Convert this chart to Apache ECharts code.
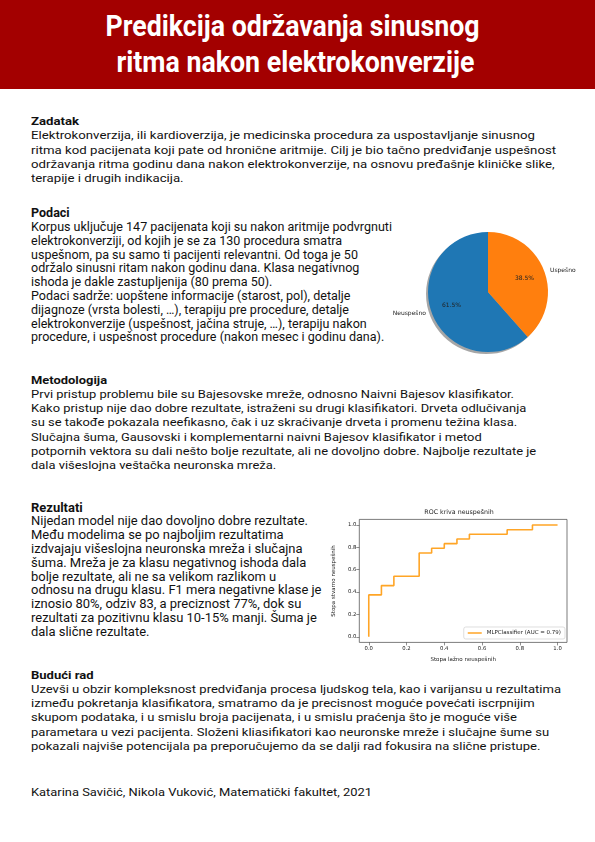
<!DOCTYPE html>
<html>
<head>
<meta charset="utf-8">
<script src="https://cdn.jsdelivr.net/npm/echarts@6/dist/echarts.min.js"></script>
<style>
  html, body { margin: 0; padding: 0; width: 595px; height: 842px; overflow: hidden; background: #fff; }
  body { position: relative; font-family: Roboto, "Noto Sans", sans-serif; color: #111; }
  #banner { position: absolute; left: 0; top: 0; width: 595px; height: 89px; background: #a30000; }
  .tl { position: absolute; left: 0; width: 595px; text-align: center; color: #fff; font-weight: 700;
        font-size: 30px; line-height: 30px; white-space: nowrap; }
  .tl span { display: inline-block; transform-origin: 50% 50%; }
  .sec { position: absolute; transform-origin: 0 0; white-space: nowrap; }
  .sec div { width: max-content; }
  .sec .h { font-weight: 700; }
  #pie { position: absolute; left: 380px; top: 220px; width: 215px; height: 150px; }
  #roc { position: absolute; left: 323px; top: 500px; width: 272px; height: 170px; }
</style>
</head>
<body>
<div id="banner"></div>
<div class="tl" id="t1"><span>Predikcija održavanja sinusnog</span></div>
<div class="tl" id="t2"><span>ritma nakon elektrokonverzije</span></div>

<div class="sec" id="zadatak">
  <div class="h">Zadatak</div>
  <div>Elektrokonverzija, ili kardioverzija, je medicinska procedura za uspostavljanje sinusnog</div>
  <div>ritma kod pacijenata koji pate od hronične aritmije. Cilj je bio tačno predviđanje uspešnost</div>
  <div>održavanja ritma godinu dana nakon elektrokonverzije, na osnovu pređašnje kliničke slike,</div>
  <div>terapije i drugih indikacija.</div>
</div>

<div class="sec" id="podaci">
  <div class="h">Podaci</div>
  <div>Korpus uključuje 147 pacijenata koji su nakon aritmije podvrgnuti</div>
  <div>elektrokonverziji, od kojih je se za 130 procedura smatra</div>
  <div>uspešnom, pa su samo ti pacijenti relevantni. Od toga je 50</div>
  <div>održalo sinusni ritam nakon godinu dana. Klasa negativnog</div>
  <div>ishoda je dakle zastupljenija (80 prema 50).</div>
  <div>Podaci sadrže: uopštene informacije (starost, pol), detalje</div>
  <div>dijagnoze (vrsta bolesti, …), terapiju pre procedure, detalje</div>
  <div>elektrokonverzije (uspešnost, jačina struje, …), terapiju nakon</div>
  <div>procedure, i uspešnost procedure (nakon mesec i godinu dana).</div>
</div>

<div class="sec" id="metod">
  <div class="h">Metodologija</div>
  <div>Prvi pristup problemu bile su Bajesovske mreže, odnosno Naivni Bajesov klasifikator.</div>
  <div>Kako pristup nije dao dobre rezultate, istraženi su drugi klasifikatori. Drveta odlučivanja</div>
  <div>su se takođe pokazala neefikasno, čak i uz skraćivanje drveta i promenu težina klasa.</div>
  <div>Slučajna šuma, Gausovski i komplementarni naivni Bajesov klasifikator i metod</div>
  <div>potpornih vektora su dali nešto bolje rezultate, ali ne dovoljno dobre. Najbolje rezultate je</div>
  <div>dala višeslojna veštačka neuronska mreža.</div>
</div>

<div class="sec" id="rezultati">
  <div class="h">Rezultati</div>
  <div>Nijedan model nije dao dovoljno dobre rezultate.</div>
  <div>Među modelima se po najboljim rezultatima</div>
  <div>izdvajaju višeslojna neuronska mreža i slučajna</div>
  <div>šuma. Mreža je za klasu negativnog ishoda dala</div>
  <div>bolje rezultate, ali ne sa velikom razlikom u</div>
  <div>odnosu na drugu klasu. F1 mera negativne klase je</div>
  <div>iznosio 80%, odziv 83, a preciznost 77%, dok su</div>
  <div>rezultati za pozitivnu klasu 10-15% manji. Šuma je</div>
  <div>dala slične rezultate.</div>
</div>

<div class="sec" id="buduci">
  <div class="h">Budući rad</div>
  <div>Uzevši u obzir kompleksnost predviđanja procesa ljudskog tela, kao i varijansu u rezultatima</div>
  <div>između pokretanja klasifikatora, smatramo da je precisnost moguće povećati iscrpnijim</div>
  <div>skupom podataka, i u smislu broja pacijenata, i u smislu praćenja što je moguće više</div>
  <div>parametara u vezi pacijenta. Složeni kliasifikatori kao neuronske mreže i slučajne šume su</div>
  <div>pokazali najviše potencijala pa preporučujemo da se dalji rad fokusira na slične pristupe.</div>
</div>

<div class="sec" id="footer">
  <div>Katarina Savičić, Nikola Vuković, Matematički fakultet, 2021</div>
</div>

<div id="pie"></div>
<div id="roc"></div>

<script>
// pie: outcome classes
const pieLabels = ["Neuspešno", "Uspešno"];
const pieValues = [80, 50];
const pieColors = ["#1f77b4", "#ff7f0e"];

// ROC curve points (false positive rate, true positive rate)
const rocFpr = [0.0, 0.0, 0.067, 0.067, 0.133, 0.133, 0.267, 0.267, 0.333, 0.333, 0.4,
                0.4, 0.467, 0.467, 0.533, 0.533, 0.733, 0.733, 0.867, 0.867, 1.0];
const rocTpr = [0.0, 0.375, 0.375, 0.458, 0.458, 0.542, 0.542, 0.75, 0.75, 0.792, 0.792,
                0.833, 0.833, 0.875, 0.875, 0.917, 0.917, 0.958, 0.958, 1.0, 1.0];
const rocTicks = [0.0, 0.2, 0.4, 0.6, 0.8, 1.0];
const rocTitle = "ROC kriva neuspešnih";
const rocLegend = "MLPClassifier (AUC = 0.79)";
const rocXName = "Stopa lažno neuspešnih";
const rocYName = "Stopa stvarno neuspešnih";

// text blocks: left, baseline of first line, font size, line height, width of reference line
const sections = [
  { id: "zadatak", x: 31, base: 126, fs: 11, lh: 14.2, w: 504, ref: 1 },
  { id: "podaci", x: 31, base: 218.3, fs: 12, lh: 13.8, w: 361, ref: 1 },
  { id: "metod", x: 31, base: 384.5, fs: 11, lh: 14.3, w: 483, ref: 1 },
  { id: "rezultati", x: 31, base: 512.7, fs: 12, lh: 13.8, w: 277, ref: 1 },
  { id: "buduci", x: 31, base: 679.5, fs: 11, lh: 14.3, w: 530, ref: 1 },
  { id: "footer", x: 31, base: 797, fs: 11, lh: 14.3, w: 341, ref: 0 },
];
const titles = [
  { id: "t1", base: 36.7, w: 374, cx: 293 },
  { id: "t2", base: 72.7, w: 358, cx: 295 },
];

function layoutText() {
  sections.forEach(s => {
    const el = document.getElementById(s.id);
    el.style.transform = "none";
    el.style.left = s.x + "px";
    el.style.fontSize = s.fs + "px";
    el.style.lineHeight = s.lh + "px";
    el.style.top = (s.base - (s.lh / 2 + 0.3425 * s.fs)) + "px";
    const nat = el.children[s.ref].getBoundingClientRect().width;
    el.style.transform = "scaleX(" + (s.w / nat) + ")";
  });
  titles.forEach(t => {
    const el = document.getElementById(t.id);
    const span = el.firstElementChild;
    span.style.transform = "none";
    el.style.top = (t.base - (15 + 0.3425 * 30)) + "px";
    const nat = span.getBoundingClientRect().width;
    span.style.transform = "translateX(" + (t.cx - 297.5) + "px) scaleX(" + (t.w / nat) + ")";
  });
}
layoutText();
if (document.fonts) document.fonts.ready.then(layoutText);

const mplFont = "DejaVu Sans";
const pieData = pieLabels.map((n, i) => ({ name: n, value: pieValues[i] }));

const pieChart = echarts.init(document.getElementById("pie"));
pieChart.setOption({
  animation: false,
  color: pieColors,
  series: [
    {
      // drop shadow
      type: "pie", center: [106, 74], radius: 60, startAngle: 90, clockwise: false,
      silent: true, data: pieData, z: 1,
      itemStyle: { color: "rgba(0,0,0,0.35)", borderWidth: 0 },
      label: { show: false }, labelLine: { show: false }, emphasis: { disabled: true },
    },
    {
      type: "pie", center: [108, 72], radius: 60, startAngle: 90, clockwise: false,
      silent: true, data: pieData, z: 2,
      itemStyle: { borderWidth: 0 },
      label: { position: "outside", formatter: "{b}", fontSize: 6, color: "#222",
               fontFamily: mplFont, distanceToLabelLine: 5 },
      labelLine: { show: false, length: 1, length2: 0 },
      emphasis: { disabled: true },
    },
    {
      // percentage labels at 0.6 of the radius
      type: "pie", center: [108, 72], radius: 72, startAngle: 90, clockwise: false,
      silent: true, data: pieData, z: 3,
      itemStyle: { color: "transparent", borderWidth: 0 },
      label: { position: "inside", formatter: p => p.percent.toFixed(1) + "%", fontSize: 6,
               color: "#222", fontFamily: mplFont },
      labelLine: { show: false }, emphasis: { disabled: true },
    },
  ],
});

const axisText = { fontFamily: mplFont, fontSize: 5.3, color: "#222" };
const rocChart = echarts.init(document.getElementById("roc"));
rocChart.setOption({
  animation: false,
  title: {
    text: rocTitle, left: "center", top: 9, padding: 0,
    textStyle: { fontFamily: mplFont, fontSize: 6.3, fontWeight: "normal", color: "#222" },
  },
  grid: { left: 28, top: 19.4, width: 216, height: 123, show: true,
          borderColor: "#444", borderWidth: 0.7, backgroundColor: "transparent" },
  legend: {
    data: [rocLegend], right: 30, bottom: 31, icon: "rect", itemWidth: 14, itemHeight: 1.5,
    padding: [3, 4, 3, 4], borderColor: "#d0d0d0", borderWidth: 0.7, borderRadius: 2,
    backgroundColor: "#fff", textStyle: { fontFamily: mplFont, fontSize: 5.5, color: "#222" },
  },
  xAxis: {
    type: "value", min: -0.05, max: 1.05,
    name: rocXName, nameLocation: "middle", nameGap: 13,
    nameTextStyle: { fontFamily: mplFont, fontSize: 5.5, color: "#222" },
    axisLine: { show: false, onZero: false },
    axisTick: { show: true, length: 3, lineStyle: { color: "#444", width: 0.6 }, customValues: rocTicks },
    axisLabel: Object.assign({ customValues: rocTicks, formatter: v => v.toFixed(1), margin: 4 }, axisText),
    splitLine: { show: false },
  },
  yAxis: {
    type: "value", min: -0.05, max: 1.05,
    name: rocYName, nameLocation: "middle", nameGap: 17,
    nameTextStyle: { fontFamily: mplFont, fontSize: 5.5, color: "#222" },
    axisLine: { show: false, onZero: false },
    axisTick: { show: true, length: 3, lineStyle: { color: "#444", width: 0.6 }, customValues: rocTicks },
    axisLabel: Object.assign({ customValues: rocTicks, formatter: v => v.toFixed(1), margin: 3 }, axisText),
    splitLine: { show: false },
  },
  series: [{
    type: "line", name: rocLegend, symbol: "none", silent: true,
    data: rocFpr.map((x, i) => [x, rocTpr[i]]),
    lineStyle: { color: "#ffa526", width: 1.6 }, itemStyle: { color: "#ffa526" },
  }],
});
</script>
</body>
</html>
